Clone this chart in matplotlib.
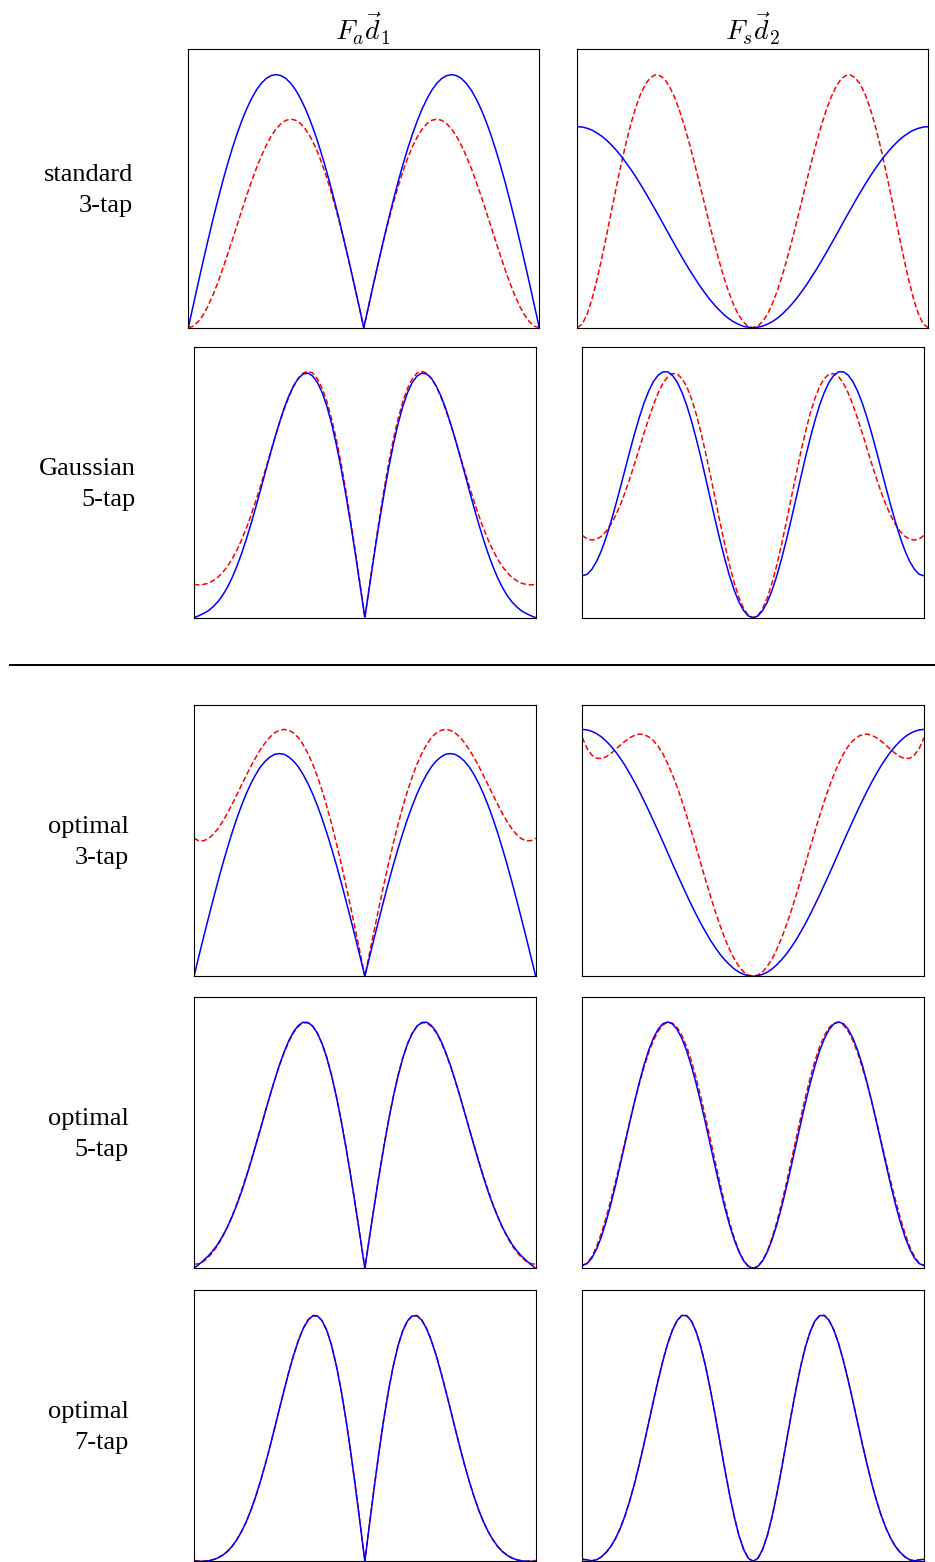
import numpy as np
import matplotlib
matplotlib.use('Agg')
import matplotlib.pyplot as plt
from matplotlib.lines import Line2D

plt.rcParams['mathtext.fontset'] = 'cm'
W, H = 935, 1562

# frequency axis, -pi..pi in steps of pi/36
omega = np.linspace(-np.pi, np.pi, 73)

# magnitudes, per mille of each panel's peak
# solid blue = filter response, dashed red = ideal (derivative of prefilter)
std3_fa = [0, 87, 174, 259, 342, 423, 500, 574, 643, 707, 766, 819, 866, 906, 940, 966, 985, 996, 1000, 996, 985, 966, 940, 906, 866, 819, 766, 707, 643, 574, 500, 423, 342, 259, 174, 87,
           0, 87, 174, 259, 342, 423, 500, 574, 643, 707, 766, 819, 866, 906, 940, 966, 985, 996, 1000, 996, 985, 966, 940, 906, 866, 819, 766, 707, 643, 574, 500, 423, 342, 259, 174, 87, 0]
std3_fa_ideal = [0, 6, 23, 49, 84, 127, 175, 229, 286, 345, 405, 465, 524, 579, 632, 679, 721, 757, 785, 806, 819, 824, 820, 807, 785, 755, 717, 670, 616, 556, 489, 416, 339, 257, 173, 87,
                 0, 87, 173, 257, 339, 416, 489, 556, 616, 670, 717, 755, 785, 807, 820, 824, 819, 806, 785, 757, 721, 679, 632, 579, 524, 465, 405, 345, 286, 229, 175, 127, 84, 49, 23, 6, 0]
std3_fs = [794, 793, 788, 781, 770, 757, 741, 722, 701, 678, 652, 625, 596, 565, 533, 500, 466, 432, 397, 362, 328, 294, 261, 229, 199, 169, 142, 116, 93, 72, 53, 37, 24, 14, 6, 2,
           0, 2, 6, 14, 24, 37, 53, 72, 93, 116, 142, 169, 199, 229, 261, 294, 328, 362, 397, 432, 466, 500, 533, 565, 596, 625, 652, 678, 701, 722, 741, 757, 770, 781, 788, 793, 794]
std3_fs_ideal = [0, 14, 53, 112, 187, 272, 365, 460, 555, 646, 730, 806, 871, 924, 963, 988, 999, 996, 980, 950, 908, 856, 795, 727, 653, 576, 497, 418, 342, 270, 203, 144, 94, 53, 24, 6,
                 0, 6, 24, 53, 94, 144, 203, 270, 342, 418, 497, 576, 653, 727, 795, 856, 908, 950, 980, 996, 999, 988, 963, 924, 871, 806, 730, 646, 555, 460, 365, 272, 187, 112, 53, 14, 0]

gau5_fa = [0, 8, 17, 28, 44, 64, 90, 122, 161, 207, 259, 317, 380, 447, 517, 589, 659, 728, 792, 851, 901, 942, 972, 989, 993, 981, 955, 914, 858, 787, 702, 606, 498, 382, 259, 130,
           0, 130, 259, 382, 498, 606, 702, 787, 858, 914, 955, 981, 993, 989, 972, 942, 901, 851, 792, 728, 659, 589, 517, 447, 380, 317, 259, 207, 161, 122, 90, 64, 44, 28, 17, 8, 0]
gau5_fa_ideal = [135, 133, 135, 140, 150, 164, 183, 207, 237, 273, 315, 362, 415, 473, 534, 598, 663, 727, 789, 846, 897, 940, 972, 993, 1000, 993, 970, 931, 877, 807, 723, 625, 515, 395, 268, 135,
                 0, 135, 268, 395, 515, 625, 723, 807, 877, 931, 970, 993, 1000, 993, 972, 940, 897, 846, 789, 727, 663, 598, 534, 473, 415, 362, 315, 273, 237, 207, 183, 164, 150, 140, 135, 133, 135]
gau5_fs = [170, 176, 196, 228, 271, 325, 387, 455, 527, 601, 675, 746, 812, 871, 920, 959, 985, 998, 998, 984, 956, 915, 862, 799, 727, 649, 566, 481, 397, 316, 240, 171, 112, 64, 29, 7,
           0, 7, 29, 64, 112, 171, 240, 316, 397, 481, 566, 649, 727, 799, 862, 915, 956, 984, 998, 998, 985, 959, 920, 871, 812, 746, 675, 601, 527, 455, 387, 325, 271, 228, 196, 176, 170]
gau5_fs_ideal = [334, 320, 315, 319, 330, 350, 378, 414, 457, 508, 564, 624, 686, 749, 809, 865, 913, 952, 978, 991, 989, 971, 938, 889, 827, 752, 668, 577, 483, 389, 299, 215, 142, 82, 37, 9,
                 0, 9, 37, 82, 142, 215, 299, 389, 483, 577, 668, 752, 827, 889, 938, 971, 989, 991, 978, 952, 913, 865, 809, 749, 686, 624, 564, 508, 457, 414, 378, 350, 330, 319, 315, 320, 334]

opt3_fa = [0, 79, 157, 233, 308, 381, 451, 517, 580, 638, 691, 739, 781, 817, 848, 871, 888, 899, 902, 899, 888, 871, 848, 817, 781, 739, 691, 638, 580, 517, 451, 381, 308, 233, 157, 79,
           0, 79, 157, 233, 308, 381, 451, 517, 580, 638, 691, 739, 781, 817, 848, 871, 888, 899, 902, 899, 888, 871, 848, 817, 781, 739, 691, 638, 580, 517, 451, 381, 308, 233, 157, 79, 0]
opt3_fa_ideal = [559, 549, 549, 557, 574, 597, 626, 659, 696, 734, 774, 813, 851, 886, 918, 946, 969, 986, 996, 1000, 996, 985, 966, 938, 903, 860, 809, 752, 687, 616, 539, 457, 371, 281, 189, 95,
                 0, 95, 189, 281, 371, 457, 539, 616, 687, 752, 809, 860, 903, 938, 966, 985, 996, 1000, 996, 986, 969, 946, 918, 886, 851, 813, 774, 734, 696, 659, 626, 597, 574, 557, 549, 549, 559]
opt3_fs = [1000, 998, 992, 983, 970, 953, 933, 910, 883, 854, 821, 787, 750, 711, 671, 629, 587, 544, 500, 456, 413, 371, 329, 289, 250, 213, 179, 146, 117, 90, 67, 47, 30, 17, 8, 2,
           0, 2, 8, 17, 30, 47, 67, 90, 117, 146, 179, 213, 250, 289, 329, 371, 413, 456, 500, 544, 587, 629, 671, 711, 750, 787, 821, 854, 883, 910, 933, 953, 970, 983, 992, 998, 1000]
opt3_fs_ideal = [967, 923, 896, 883, 882, 889, 902, 918, 936, 952, 966, 976, 981, 979, 970, 954, 931, 900, 861, 816, 766, 710, 649, 586, 521, 454, 389, 325, 264, 207, 155, 110, 71, 41, 18, 5,
                 0, 5, 18, 41, 71, 110, 155, 207, 264, 325, 389, 454, 521, 586, 649, 710, 766, 816, 861, 900, 931, 954, 970, 979, 981, 976, 966, 952, 936, 918, 902, 889, 882, 883, 896, 923, 967]

opt5_fa = [0, 15, 32, 50, 72, 98, 130, 166, 209, 257, 310, 369, 432, 498, 565, 634, 701, 765, 825, 879, 925, 961, 986, 999, 998, 983, 954, 911, 853, 781, 696, 599, 492, 377, 255, 129,
           0, 129, 255, 377, 492, 599, 696, 781, 853, 911, 954, 983, 998, 999, 986, 961, 925, 879, 825, 765, 701, 634, 565, 498, 432, 369, 310, 257, 209, 166, 130, 98, 72, 50, 32, 15, 0]
opt5_fa_ideal = [16, 19, 28, 44, 66, 93, 127, 166, 210, 260, 315, 374, 436, 501, 568, 635, 700, 764, 823, 875, 921, 957, 982, 996, 996, 983, 955, 912, 855, 784, 699, 603, 496, 380, 257, 130,
                 0, 130, 257, 380, 496, 603, 699, 784, 855, 912, 955, 983, 996, 996, 982, 957, 921, 875, 823, 764, 700, 635, 568, 501, 436, 374, 315, 260, 210, 166, 127, 93, 66, 44, 28, 19, 16]
opt5_fs = [11, 19, 41, 78, 127, 188, 259, 337, 421, 507, 593, 676, 754, 825, 886, 935, 971, 993, 1000, 992, 969, 932, 882, 820, 749, 670, 586, 499, 412, 328, 249, 178, 117, 67, 30, 8,
           0, 8, 30, 67, 117, 178, 249, 328, 412, 499, 586, 670, 749, 820, 882, 932, 969, 992, 1000, 993, 971, 935, 886, 825, 754, 676, 593, 507, 421, 337, 259, 188, 127, 78, 41, 19, 11]
opt5_fs_ideal = [12, 21, 47, 88, 142, 205, 276, 352, 432, 514, 595, 674, 748, 816, 876, 925, 963, 988, 999, 995, 977, 945, 899, 841, 772, 694, 610, 522, 433, 346, 264, 189, 124, 71, 32, 8,
                 0, 8, 32, 71, 124, 189, 264, 346, 433, 522, 610, 694, 772, 841, 899, 945, 977, 995, 999, 988, 963, 925, 876, 816, 748, 674, 595, 514, 432, 352, 276, 205, 142, 88, 47, 21, 12]

opt7_fa = [0, 0, 0, 2, 6, 13, 24, 39, 60, 87, 120, 160, 208, 263, 325, 392, 465, 541, 619, 695, 769, 837, 896, 944, 978, 996, 996, 976, 936, 875, 794, 694, 578, 447, 304, 154,
           0, 154, 304, 447, 578, 694, 794, 875, 936, 976, 996, 996, 978, 944, 896, 837, 769, 695, 619, 541, 465, 392, 325, 263, 208, 160, 120, 87, 60, 39, 24, 13, 6, 2, 0, 0, 0]
opt7_fa_ideal = [3, 2, 1, 2, 7, 14, 25, 40, 60, 87, 120, 160, 207, 262, 324, 392, 465, 542, 620, 697, 771, 839, 898, 946, 980, 998, 997, 977, 937, 876, 794, 695, 578, 447, 304, 154,
                 0, 154, 304, 447, 578, 695, 794, 876, 937, 977, 997, 998, 980, 946, 898, 839, 771, 697, 620, 542, 465, 392, 324, 262, 207, 160, 120, 87, 60, 40, 25, 14, 7, 2, 1, 2, 3]
opt7_fs = [8, 6, 2, 6, 18, 36, 60, 93, 134, 185, 246, 315, 393, 476, 563, 651, 736, 815, 884, 939, 978, 998, 997, 975, 931, 869, 789, 695, 592, 484, 376, 274, 182, 105, 48, 12,
           0, 12, 48, 105, 182, 274, 376, 484, 592, 695, 789, 869, 931, 975, 997, 998, 978, 939, 884, 815, 736, 651, 563, 476, 393, 315, 246, 185, 134, 93, 60, 36, 18, 6, 2, 6, 8]
opt7_fs_ideal = [8, 6, 2, 6, 17, 35, 59, 92, 134, 185, 246, 317, 394, 478, 565, 653, 738, 816, 884, 939, 978, 998, 997, 975, 932, 870, 791, 697, 594, 486, 378, 275, 183, 106, 48, 12,
                 0, 12, 48, 106, 183, 275, 378, 486, 594, 697, 791, 870, 932, 975, 997, 998, 978, 939, 884, 816, 738, 653, 565, 478, 394, 317, 246, 185, 134, 92, 59, 35, 17, 6, 2, 6, 8]

rows = ['standard\n3-tap', 'Gaussian\n5-tap', 'optimal\n3-tap', 'optimal\n5-tap', 'optimal\n7-tap']
titles = [r'$F_a\vec{d}_1$', r'$F_s\vec{d}_2$']
curves = [
    [(std3_fa, std3_fa_ideal), (std3_fs, std3_fs_ideal)],
    [(gau5_fa, gau5_fa_ideal), (gau5_fs, gau5_fs_ideal)],
    [(opt3_fa, opt3_fa_ideal), (opt3_fs, opt3_fs_ideal)],
    [(opt5_fa, opt5_fa_ideal), (opt5_fs, opt5_fs_ideal)],
    [(opt7_fa, opt7_fa_ideal), (opt7_fs, opt7_fs_ideal)],
]

# panel boxes in pixels: (top, bottom), left column x, right column x, label right edge
boxes = [
    ((49.3, 327.7), (188.3, 539.3), (577.3, 928.3), 133),
    ((346.7, 617.7), (194, 535.7), (582.3, 924), 136),
    ((704.7, 976.3), (194, 535.7), (582.3, 924), 129),
    ((997.3, 1268.3), (194, 535.7), (582.3, 924), 129),
    ((1290.3, 1561.3), (194, 535.7), (582.3, 924), 129),
]

fig = plt.figure(figsize=(W / 100, H / 100), dpi=100)
for label, pair_row, ((y0, y1), lx, rx, tx) in zip(rows, curves, boxes):
    for (x0, x1), (filt, ideal) in zip([lx, rx], pair_row):
        ax = fig.add_axes([x0 / W, 1 - y1 / H, (x1 - x0) / W, (y1 - y0) / H])
        ax.plot(omega, ideal, color='red', lw=1.1, dashes=(3.6, 1.8))
        ax.plot(omega, filt, color='blue', lw=1.1)
        ax.set_xlim(-np.pi, np.pi)
        ax.set_ylim(0, 1100)
        ax.set_xticks([])
        ax.set_yticks([])
        for s in ax.spines.values():
            s.set_linewidth(0.8)
    fig.text(tx / W, 1 - ((y0 + y1) / 2 + 2) / H, label, ha='right', va='center',
             multialignment='right', fontsize=19, family='Liberation Serif', linespacing=1.55)

# column titles and the rule between the reference filters and the optimal ones
fig.text(363 / W, 1 - 40 / H, titles[0], ha='center', va='baseline', fontsize=20)
fig.text(753 / W, 1 - 40 / H, titles[1], ha='center', va='baseline', fontsize=20)
fig.add_artist(Line2D([10 / W, 1], [1 - 665 / H] * 2, color='black', lw=1.4))

fig.savefig('out.png', dpi=100)
